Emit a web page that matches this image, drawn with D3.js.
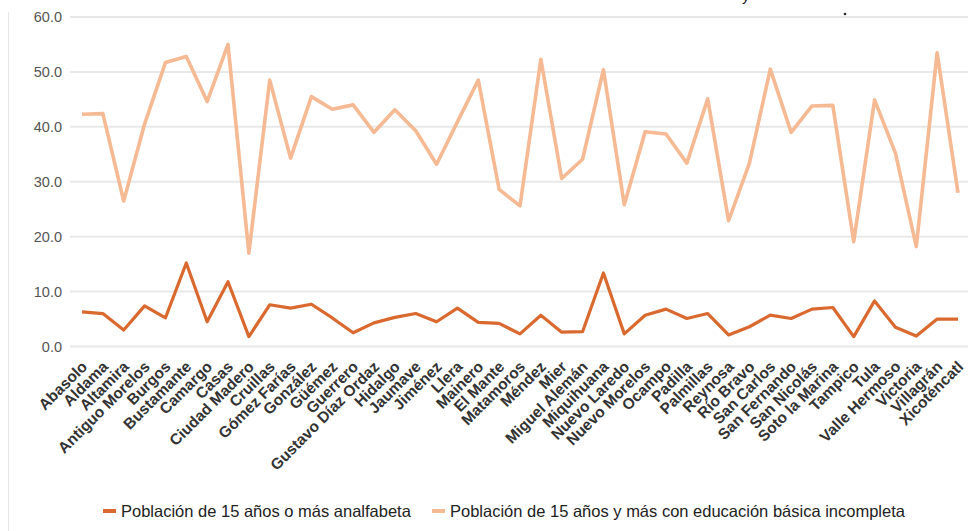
<!DOCTYPE html>
<html>
<head>
<meta charset="utf-8">
<script src="https://cdn.jsdelivr.net/npm/d3@7"></script>
<style>
  body { margin: 0; background: #fff; }
  svg { font-family: "Liberation Sans", Arial, sans-serif; }
</style>
</head>
<body>
<svg id="chart"></svg>
<script>
const municipios = ["Abasolo", "Aldama", "Altamira", "Antiguo Morelos", "Burgos", "Bustamante", "Camargo",
    "Casas", "Ciudad Madero", "Cruillas", "Gómez Farías", "González", "Güémez", "Guerrero",
    "Gustavo Díaz Ordaz", "Hidalgo", "Jaumave", "Jiménez", "Llera", "Mainero", "El Mante",
    "Matamoros", "Méndez", "Mier", "Miguel Alemán", "Miquihuana", "Nuevo Laredo", "Nuevo Morelos",
    "Ocampo", "Padilla", "Palmillas", "Reynosa", "Río Bravo", "San Carlos", "San Fernando",
    "San Nicolás", "Soto la Marina", "Tampico", "Tula", "Valle Hermoso", "Victoria", "Villagrán",
    "Xicoténcatl"];

const analfabeta = [6.3, 6.0, 3.0, 7.4, 5.2, 15.2, 4.5, 11.8, 1.8, 7.6, 7.0, 7.7, 5.2, 2.5,
    4.3, 5.3, 6.0, 4.5, 7.0, 4.4, 4.2, 2.3, 5.7, 2.6, 2.7, 13.4, 2.3, 5.7,
    6.8, 5.1, 6.0, 2.1, 3.6, 5.7, 5.1, 6.8, 7.1, 1.8, 8.3, 3.5, 1.9, 5.0, 5.0];

const basicaIncompleta = [42.3, 42.4, 26.5, 40.5, 51.7, 52.8, 44.6, 55.0, 17.0, 48.5, 34.3, 45.5, 43.2, 44.0,
    39.0, 43.1, 39.3, 33.2, 40.9, 48.5, 28.6, 25.6, 52.3, 30.6, 34.1, 50.4, 25.8, 39.1,
    38.7, 33.4, 45.1, 22.9, 33.4, 50.5, 39.0, 43.8, 43.9, 19.1, 44.9, 35.2, 18.2, 53.5, 28.0];

const yTicks = [0, 10, 20, 30, 40, 50, 60];

const series = [
    { name: "Población de 15 años o más analfabeta", values: analfabeta, color: "#d9692f", w: 3.2 },
    { name: "Población de 15 años y más con educación básica incompleta", values: basicaIncompleta, color: "#f5b993", w: 3.6 }
];

const width = 970, height = 531;
const svg = d3.select("#chart").attr("width", width).attr("height", height);

const x = d3.scalePoint()
    .domain(municipios)
    .range([82, 958]);

const y = d3.scaleLinear()
    .domain([0, 60])
    .range([346.5, 17]);

// left border of the frame
svg.append("line")
    .attr("x1", 8.5).attr("x2", 8.5)
    .attr("y1", 12).attr("y2", height)
    .attr("stroke", "#e6e6e6");

// title fragments cut off at the top edge
svg.append("text")
    .attr("x", 742).attr("y", 1)
    .attr("font-size", 15)
    .attr("fill", "#222")
    .text("y");
svg.append("circle")
    .attr("cx", 845).attr("cy", 14).attr("r", 1.3)
    .attr("fill", "#222");

// grid
svg.append("g")
    .selectAll("line")
    .data(yTicks)
    .join("line")
    .attr("x1", 70).attr("x2", 968)
    .attr("y1", d => y(d)).attr("y2", d => y(d))
    .attr("stroke", "#e8e8e8")
    .attr("stroke-width", 2);

// y axis labels
const yAxis = d3.axisLeft(y)
    .tickValues(yTicks)
    .tickFormat(d3.format(".1f"))
    .tickSize(0)
    .tickPadding(0);

const yg = svg.append("g")
    .attr("transform", "translate(62,0)")
    .call(yAxis);
yg.select(".domain").remove();
yg.selectAll("text")
    .attr("font-size", 14.5)
    .attr("font-family", "Liberation Sans, Arial, sans-serif")
    .attr("fill", "#555");

// x axis labels
const xAxis = d3.axisBottom(x).tickSize(0).tickPadding(0);
const xg = svg.append("g")
    .attr("transform", "translate(0,352)")
    .call(xAxis);
xg.select(".domain").remove();
xg.selectAll("text")
    .attr("font-size", 15.5)
    .attr("font-weight", "bold")
    .attr("font-family", "Liberation Sans, Arial, sans-serif")
    .attr("fill", "#333")
    .attr("text-anchor", "end")
    .attr("dy", "0.7em")
    .attr("transform", "translate(-2,8) rotate(-45)");

// lines
const line = d3.line()
    .x((d, i) => x(municipios[i]))
    .y(d => y(d))
    .curve(d3.curveLinear);

svg.append("g")
    .selectAll("path")
    .data(series.slice().reverse())
    .join("path")
    .attr("d", d => line(d.values))
    .attr("fill", "none")
    .attr("stroke", d => d.color)
    .attr("stroke-width", d => d.w)
    .attr("stroke-linejoin", "round");

// legend
const legendPos = [103, 432];
const lg = svg.append("g")
    .selectAll("g")
    .data(series)
    .join("g")
    .attr("transform", (d, i) => `translate(${legendPos[i]},511)`);

lg.append("rect")
    .attr("x", 0).attr("y", -2)
    .attr("width", 13).attr("height", 4)
    .attr("fill", d => d.color);

lg.append("text")
    .attr("x", 18).attr("y", 0)
    .attr("dy", "0.35em")
    .attr("font-size", 16.5)
    .attr("fill", "#222")
    .text(d => d.name);
</script>
</body>
</html>
